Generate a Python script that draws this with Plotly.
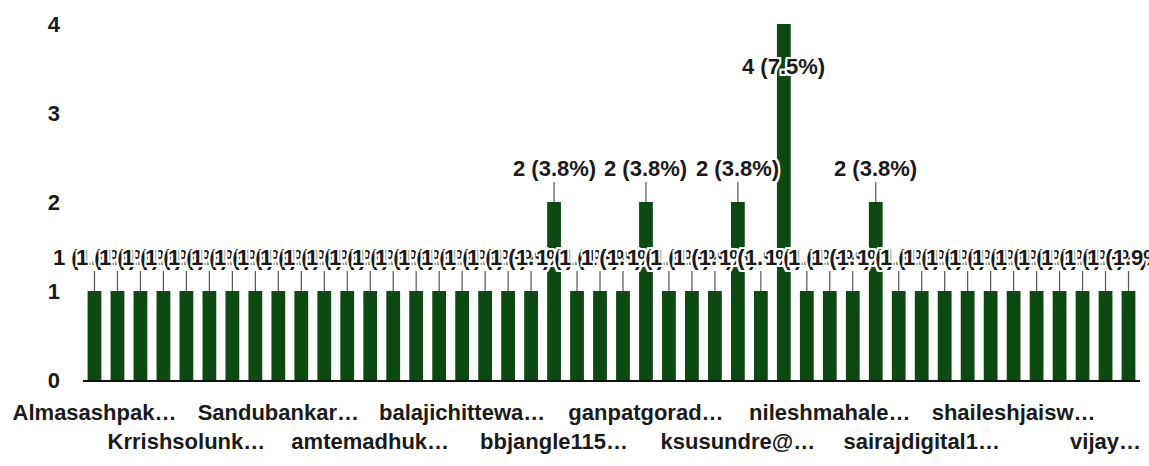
import plotly.graph_objects as go

# Number of responses per respondent, in the sorted order of the answers
counts = [1, 1, 1, 1, 1, 1, 1, 1, 1, 1,
          1, 1, 1, 1, 1, 1, 1, 1, 1, 1,
          2, 1, 1, 1, 2, 1, 1, 1, 2, 1,
          4, 1, 1, 1, 2, 1, 1, 1, 1, 1,
          1, 1, 1, 1, 1, 1]

# Axis labels shown on the category axis (every 4th answer, two staggered rows)
row1_labels = ["Almasashpak…", "Sandubankar…", "balajichittewa…",
               "ganpatgorad…", "nileshmahale…", "shaileshjaisw…"]
row2_labels = ["Krrishsolunk…", "amtemadhuk…", "bbjangle115…",
               "ksusundre@…", "sairajdigital1…", "vijay…"]
y_ticks = [0, 1, 2, 3, 4]

BAR = "#0c4a12"
INK = "#1a1a1a"
FONT = "Liberation Sans, Arial, sans-serif"
HALO = ("-2px -2px 0 #fff, 2px -2px 0 #fff, -2px 2px 0 #fff, 2px 2px 0 #fff, "
        "0 2px 0 #fff, 0 -2px 0 #fff, 2px 0 0 #fff, -2px 0 0 #fff")
TXT = dict(family=FONT, size=22, color=INK, weight="bold")

positions = list(range(len(counts)))
total = sum(counts)
ymax = max(y_ticks)

fig = go.Figure(go.Bar(x=positions, y=counts, marker=dict(color=BAR, line=dict(width=0)),
                       hoverinfo="skip"))
# empty trace that brings the second (staggered) label row axis into the subplot
fig.add_trace(go.Scatter(x=[], y=[], xaxis="x2", yaxis="y", hoverinfo="skip"))

# Value labels: "n (p%)" above each bar with a short stem; the tallest bar
# has no room above it, so its label sits inside the bar.
annotations = []
for xi, c in zip(positions, counts):
    label = f"{c} ({c / total * 100:.1f}%)"
    font = dict(TXT, shadow=HALO)
    if c + 0.5 > ymax:
        annotations.append(dict(x=xi, y=c, xref="x", yref="y", text=label,
                                showarrow=False, yshift=-42, yanchor="middle",
                                font=font))
    else:
        annotations.append(dict(x=xi, y=c, xref="x", yref="y", text=label,
                                showarrow=True, arrowhead=0, arrowwidth=1.2,
                                arrowcolor="#555", ax=0, ay=-34, standoff=0,
                                font=font))

fig.update_layout(
    width=1149, height=466,
    margin=dict(l=83, r=9, t=24, b=86),
    paper_bgcolor="white", plot_bgcolor="white",
    showlegend=False, bargap=0.4,
    annotations=annotations,
    xaxis=dict(range=[-0.5, len(counts) - 0.5],
               tickmode="array", tickvals=positions[0::8], ticktext=row1_labels,
               showgrid=False, zeroline=False, showline=True,
               linecolor="#111", linewidth=2, ticks="",
               ticklabelstandoff=12,
               tickfont=TXT),
    xaxis2=dict(range=[-0.5, len(counts) - 0.5], overlaying="x", anchor="y",
                side="bottom", tickmode="array", tickvals=positions[4::8],
                ticktext=row2_labels, showgrid=False, zeroline=False,
                showline=False, ticks="", ticklabelstandoff=46,
                tickfont=TXT),
    yaxis=dict(range=[0, ymax], tickmode="array", tickvals=y_ticks,
               showgrid=False, zeroline=False, showline=False, ticks="",
               ticklabelstandoff=22,
               tickfont=TXT),
)

fig.write_html("out.html")
